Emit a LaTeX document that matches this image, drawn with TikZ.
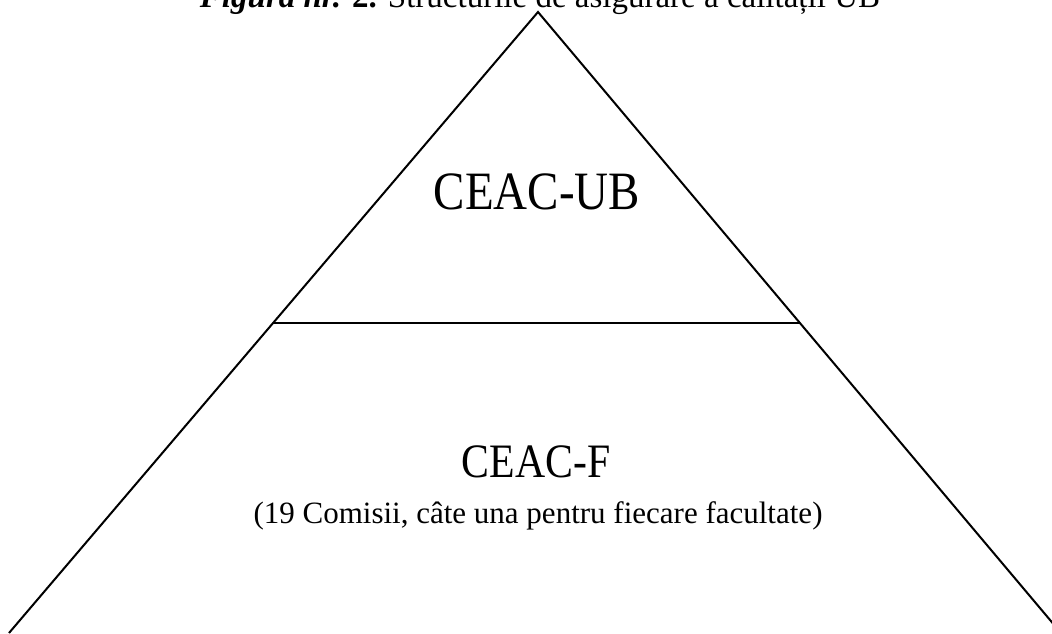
\documentclass[tikz,border=0pt]{standalone}
\usepackage{fontspec}
\setmainfont{Liberation Serif}
\usepackage{tikz}
\usetikzlibrary{positioning, calc}

\begin{document}
\begin{tikzpicture}[
    x=1pt, y=-1pt,
    edge/.style={draw=black, line width=2pt, line join=miter},
    level/.style={anchor=base, inner sep=0pt, font=\fontsize{54}{60}\selectfont, xscale=0.87},
    note/.style={anchor=base, inner sep=0pt, font=\fontsize{31}{36}\selectfont},
    caption/.style={anchor=base, inner sep=0pt, font=\fontsize{33}{38}\selectfont}
]
\useasboundingbox (0,0) rectangle (1052,633);
\clip (0,0) rectangle (1052,633);

% corners of the pyramid
\coordinate (apex) at (538,12);
\coordinate (bl) at (9,633);
\coordinate (br) at (1061,633);
\coordinate (ml) at (273,323);
\coordinate (mr) at (800,323);

\draw[edge] (bl) -- (apex) -- (br);
\draw[edge] (ml) -- (mr);

% labels
\node[caption] (title) at (540,7) {\textbf{\textit{Figura nr.} 2.} Structurile de asigurare a calității UB};
\node[level] (ub) at (537,209) {CEAC-UB};
\node[level, font=\fontsize{48}{54}\selectfont] (fac) at (536,477) {CEAC-F};
\node[note] (fnote) at (538,523) {(19 Comisii, câte una pentru fiecare facultate)};
\end{tikzpicture}
\end{document}
